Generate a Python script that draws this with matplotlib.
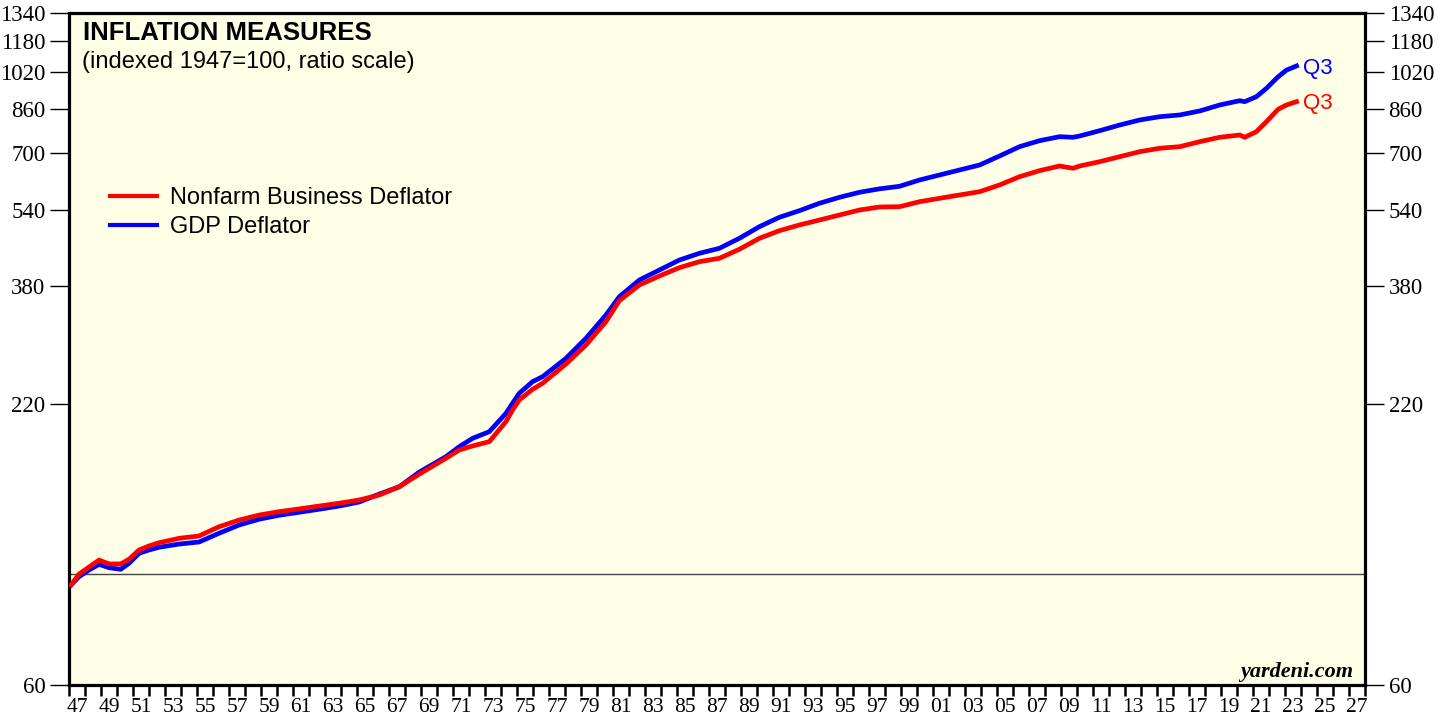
import numpy as np
import matplotlib.pyplot as plt
from matplotlib.ticker import FixedLocator, NullFormatter, FixedFormatter

# readings (year, index 1947=100)
years = [1947.13, 1947.63, 1948.25, 1948.88, 1949.50, 1950.23, 1950.75, 1951.38, 1952.00, 1952.63,
         1953.88, 1955.13, 1956.38, 1957.63, 1958.88, 1960.13, 1961.38, 1962.63, 1963.88, 1965.14,
         1966.39, 1967.64, 1968.89, 1970.56, 1971.39, 1972.22, 1973.27, 1974.31, 1974.72, 1975.14,
         1975.97, 1976.60, 1978.06, 1979.31, 1980.56, 1981.40, 1982.65, 1983.90,
         1985.15, 1986.40, 1987.65, 1988.90, 1990.15, 1991.40, 1992.65, 1993.90, 1995.16, 1996.41,
         1997.66, 1998.91,
         2000.16, 2001.41, 2002.66, 2003.91, 2005.16, 2006.41, 2007.66, 2008.91, 2009.75, 2010.17,
         2011.42, 2012.67, 2013.92, 2015.17, 2016.42,
         2017.67, 2018.92, 2020.17, 2020.48, 2021.21, 2021.84, 2022.57, 2023.09, 2023.72]

gdp_deflator = [95.3, 99.0, 102.1, 104.8, 103.2, 102.4, 105.3, 110.3, 112.0, 113.4,
                115.1, 116.2, 121.0, 125.7, 129.1, 131.5, 133.3, 135.2, 137.2, 139.8,
                145.0, 150.0, 160.5, 172.4, 180.5, 187.6, 193.5, 210.6, 220.6, 231.0,
                243.8, 249.5, 271.6, 297.9, 331.8, 361.2, 390.1, 408.5,
                427.8, 441.3, 451.6, 473.0, 499.1, 521.2, 537.4, 556.1, 571.7, 585.1,
                594.5, 601.5,
                619.3, 633.8, 648.6, 663.7, 691.9, 722.4, 742.7, 756.5, 754.4, 759.0,
                777.8, 798.5, 817.2, 829.8, 836.4,
                852.0, 875.9, 893.5, 889.4, 910.0, 946.0, 998.0, 1029.0, 1049.0]

nonfarm_deflator = [95.3, 100.2, 103.5, 106.9, 105.0, 105.0, 107.3, 112.0, 114.1, 115.8,
                    118.2, 119.5, 124.7, 128.6, 131.6, 133.7, 135.4, 137.2, 139.0, 141.1,
                    144.4, 150.0, 159.0, 171.1, 177.8, 181.1, 184.8, 202.7, 213.9, 224.0,
                    235.3, 242.0, 264.6, 288.8, 321.8, 354.6, 381.2, 397.4,
                    413.0, 424.5, 431.2, 449.6, 473.0, 489.9, 503.0, 514.7, 526.8, 539.1,
                    546.6, 547.4,
                    560.2, 569.0, 577.8, 586.7, 605.2, 628.8, 646.6, 660.7, 653.7, 660.7,
                    674.0, 689.8, 705.9, 717.1, 722.4,
                    739.3, 754.4, 762.4, 754.4, 774.2, 810.8, 858.7, 875.9, 889.4]

y_ticks = [60, 220, 380, 540, 700, 860, 1020, 1180, 1340]
label_years = list(range(1947, 2028, 2))
x_labels = ["%02d" % (y % 100) for y in label_years]

plt.rcParams['font.family'] = ['Liberation Serif', 'DejaVu Serif']
SANS = ['Liberation Sans', 'DejaVu Sans']

W, H = 1446, 719
fig = plt.figure(figsize=(W / 100, H / 100), dpi=100, facecolor='white')
ax = fig.add_axes([69 / W, (H - 685) / H, (1365 - 69) / W, (685 - 13) / H])
ax.set_facecolor('#fffee6')

ax.set_yscale('log')
ax.set_ylim(60, 1340)
ax.set_xlim(1947, 2028)

ax.axhline(100, color='#444444', lw=1.0, zorder=1)
l_gdp, = ax.plot(years, gdp_deflator, color='#0000ff', lw=3.4, zorder=3)
l_nfb, = ax.plot(years, nonfarm_deflator, color='#ff0000', lw=3.4, zorder=4)

# Q3 end labels
ax.annotate('Q3', xy=(years[-1], gdp_deflator[-1]), xytext=(5, -1.5), textcoords='offset points',
            color='#0000ff', fontsize=16, family=SANS, va='center', ha='left', annotation_clip=False)
ax.annotate('Q3', xy=(years[-1], nonfarm_deflator[-1]), xytext=(5, -1.5), textcoords='offset points',
            color='#ff0000', fontsize=16, family=SANS, va='center', ha='left', annotation_clip=False)

# y axis: both sides
ax.yaxis.set_major_locator(FixedLocator(y_ticks))
ax.yaxis.set_major_formatter(FixedFormatter([str(v) for v in y_ticks]))
ax.yaxis.set_minor_locator(FixedLocator([]))
ax.yaxis.set_minor_formatter(NullFormatter())
ax.tick_params(axis='y', which='major', left=True, right=True, labelleft=True, labelright=True,
               direction='out', length=14, width=1.0, labelsize=16.5, pad=3)

# x axis: ticks each year, labels mid-year on odd years
ax.xaxis.set_major_locator(FixedLocator(list(range(1947, 2029))))
ax.xaxis.set_major_formatter(NullFormatter())
ax.xaxis.set_minor_locator(FixedLocator([y + 0.5 for y in label_years]))
ax.xaxis.set_minor_formatter(FixedFormatter(x_labels))
ax.tick_params(axis='x', which='major', direction='out', length=8, width=1.8)
ax.tick_params(axis='x', which='minor', length=0, labelsize=15.5, pad=9)

for s in ax.spines.values():
    s.set_linewidth(2.3)

fig.text(83 / W, 1 - 40 / H, 'INFLATION MEASURES', fontsize=18.5, fontweight='bold',
         family=SANS, va='baseline', ha='left')
fig.text(82 / W, 1 - 68 / H, '(indexed 1947=100, ratio scale)', fontsize=17,
         family=SANS, va='baseline', ha='left')

leg = ax.legend([l_nfb, l_gdp], ['Nonfarm Business Deflator', 'GDP Deflator'],
                loc='upper left', bbox_to_anchor=(0.0316, 0.741), frameon=False,
                borderpad=0, borderaxespad=0, handlelength=2.0, handletextpad=0.55,
                labelspacing=0.3, prop={'family': SANS, 'size': 17})
for h in leg.get_lines():
    h.set_linewidth(3)

ax.text(0.9907, 0.012, 'yardeni.com', transform=ax.transAxes, ha='right', va='baseline',
        fontsize=16, fontweight='bold', fontstyle='italic')

fig.savefig('out.png', dpi=100, facecolor='white')
